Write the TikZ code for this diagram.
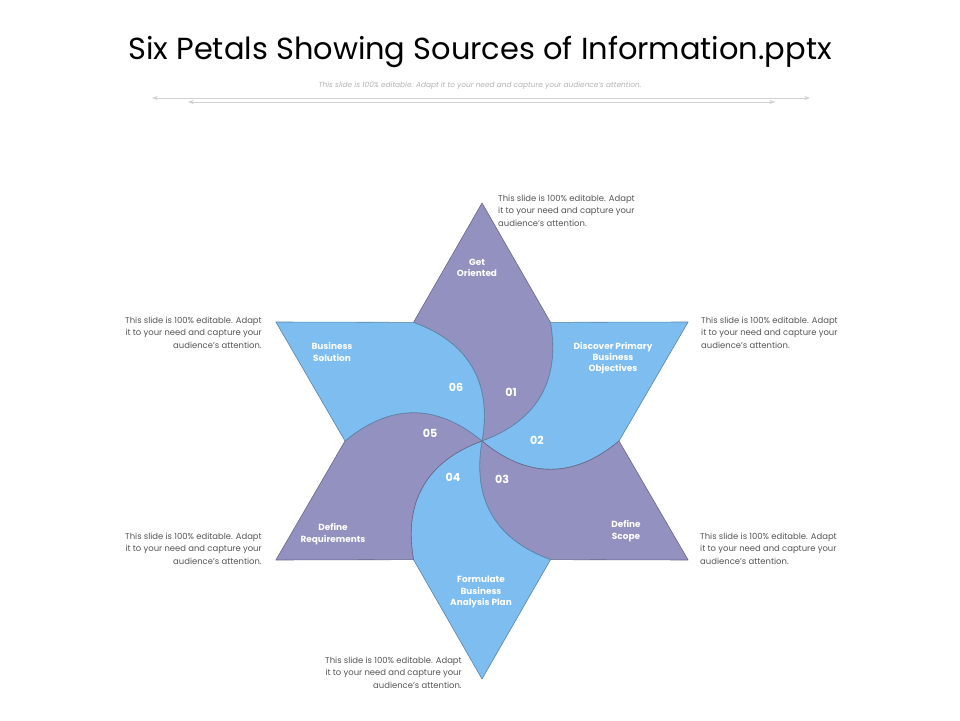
\documentclass[tikz,border=0pt]{standalone}
\usepackage{fontspec}
\setmainfont{Poppins}
\usetikzlibrary{arrows.meta}
\definecolor{petalpurple}{HTML}{9391C0}
\definecolor{petalblue}{HTML}{7DBDF0}
\definecolor{desctext}{HTML}{555555}
\tikzset{
  petal/.style={draw=#1!70!black, line width=0.5pt, line join=round, fill=#1},
  petaltext/.style={text=white, font=\bfseries\fontsize{7.6}{9.6}\selectfont, align=center},
  numtext/.style={text=white, font=\bfseries\fontsize{9.5}{12}\selectfont},
  desc/.style={text=desctext, font=\fontsize{7.2}{10.4}\selectfont, inner sep=0pt},
  guide/.style={draw=black!18, line width=0.6pt, {Stealth[length=5pt]}-{Stealth[length=5pt]}}
}
\begin{document}
\begin{tikzpicture}[x=0.03cm, y=0.03cm]
    \useasboundingbox (0,0) rectangle (960,720);

    % title
    \node[font=\fontsize{26}{32}\selectfont] (title) at (480,668) {Six Petals Showing Sources of Information.pptx};
    \node[text=black!30, font=\itshape\fontsize{6.3}{8}\selectfont] (sub) at (480,634) {This slide is 100\% editable. Adapt it to your need and capture your audience's attention.};
    \draw[guide] (152,622) -- (810,622);
    \draw[guide] (188,618) -- (775,618);

    % petals
    \begin{scope}[shift={(482,279)}]
    \foreach \a/\col in {90/petalpurple, 30/petalblue, -30/petalpurple, -90/petalblue, -150/petalpurple, 150/petalblue}{
        \pgfmathsetmacro{\lo}{\a-30}
        \pgfmathsetmacro{\hi}{\a+30}
        \filldraw[petal=\col]
        (0,0) to[out=\lo-40, in=\lo-140, looseness=1.1] (\lo:137) --
        (\a:238) --
        (\hi:137) to[out=\hi-140, in=\hi-40, looseness=1.1] (0,0) -- cycle;
    }
    \end{scope}

    % petal labels
    \node[petaltext] (get) at (477,452) {Get\\Oriented};
    \node[petaltext] (discover) at (613,362) {Discover Primary\\Business\\Objectives};
    \node[petaltext] (scope) at (626,189) {Define\\Scope};
    \node[petaltext] (plan) at (481,128) {Formulate\\Business\\Analysis Plan};
    \node[petaltext] (req) at (333,186) {Define\\Requirements};
    \node[petaltext] (sol) at (332,368) {Business\\Solution};

    \node[numtext] (n1) at (511,328) {01};
    \node[numtext] (n2) at (537,280) {02};
    \node[numtext] (n3) at (502,241) {03};
    \node[numtext] (n4) at (453,243) {04};
    \node[numtext] (n5) at (430,287) {05};
    \node[numtext] (n6) at (456,333) {06};

    % descriptions
    \node[desc, align=left, anchor=north west] (dtop) at (498,525) {This slide is 100\% editable. Adapt\\it to your need and capture your\\audience's attention.};
    \node[desc, align=left, anchor=north west] (dright1) at (701,403) {This slide is 100\% editable. Adapt\\it to your need and capture your\\audience's attention.};
    \node[desc, align=left, anchor=north west] (dright2) at (700,187) {This slide is 100\% editable. Adapt\\it to your need and capture your\\audience's attention.};
    \node[desc, align=right, anchor=north east] (dleft1) at (262,403) {This slide is 100\% editable. Adapt\\it to your need and capture your\\audience's attention.};
    \node[desc, align=right, anchor=north east] (dleft2) at (262,187) {This slide is 100\% editable. Adapt\\it to your need and capture your\\audience's attention.};
    \node[desc, align=right, anchor=north east] (dbottom) at (462,63) {This slide is 100\% editable. Adapt\\it to your need and capture your\\audience's attention.};
\end{tikzpicture}
\end{document}
